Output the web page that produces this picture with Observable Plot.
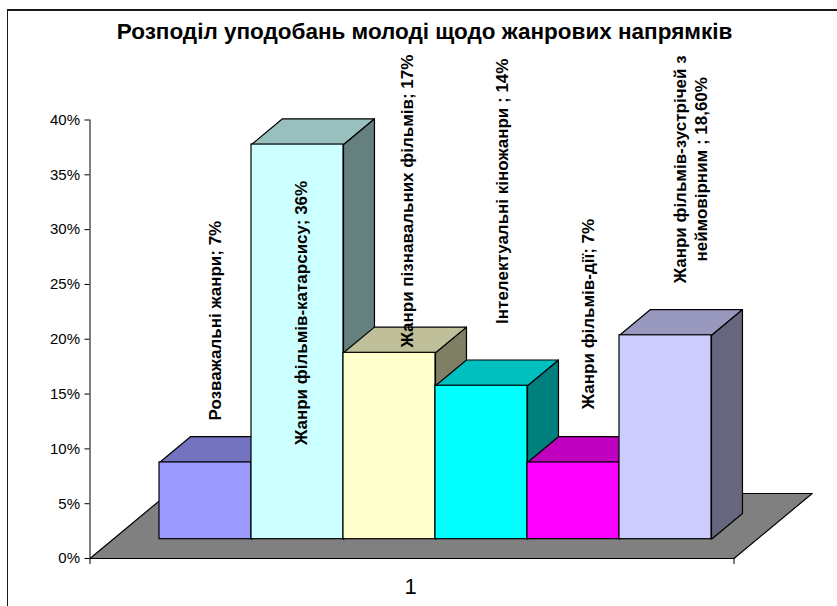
<!DOCTYPE html>
<html><head><meta charset="utf-8">
<script src="https://cdn.jsdelivr.net/npm/d3@7"></script>
<script src="https://cdn.jsdelivr.net/npm/@observablehq/plot@0.6"></script>
<style>
html,body{margin:0;padding:0;background:#fff}
#wrap{position:relative;width:837px;height:606px;overflow:hidden;font-family:"Liberation Sans",Arial,sans-serif}
#border{position:absolute;left:7px;top:9px;width:900px;height:700px;border:2px solid #1a1a1a;border-left-width:1.5px;box-sizing:border-box;pointer-events:none}
#title{height:46px;padding-top:20px;box-sizing:border-box;text-align:center;width:849px;font-size:22.5px;line-height:24px;font-weight:bold;color:#000;white-space:nowrap}
svg{display:block}
</style></head><body>
<div id="wrap"><div id="border"></div><div id="title"></div><div id="chart"></div></div>
<script>
const title = "Розподіл уподобань молоді щодо жанрових напрямків";
const labels = ["Розважальні жанри; 7%","Жанри фільмів-катарсису; 36%","Жанри пізнавальних фільмів; 17%","Інтелектуальні кіножанри ; 14%","Жанри фільмів-дії; 7%","Жанри фільмів-зустрічей з\nнеймовірним ; 18,60%"];
const values = [7, 36, 17, 14, 7, 18.6];
const category = "1";
const frontColors = ["#9999FF","#CCFFFF","#FFFFCC","#00FFFF","#FF00FF","#CCCCFF"];
const topColors = ["#7373BF","#99BFBF","#BFBF99","#00BFBF","#BF00BF","#9999BF"];
const sideColors = ["#4C4C7F","#667F7F","#7F7F66","#007F7F","#7F007F","#66667F"];
const floorColor = "#808080";
const yTicks = [0,5,10,15,20,25,30,35,40];
// label nudges from the centre of each bar top, in pixels
const labelDx = [9,3,17,20,14,24];
const labelY = [21.7,22.4,32.6,33.5,22.3,35.5];

// oblique projection: depth z runs 0 (front of floor) to 1 (back of floor)
const skewX = 0.85, skewY = 5.93;
const zFront = 0.297, zBack = 0.693, gap = 0.503, xMax = 7;
const px = (x, z) => x + z * skewX;
const py = (v, z) => v + z * skewY;
const poly = pts => pts.concat([pts[0]]).map(([x,v,z]) => ({x: px(x,z), y: py(v,z)}));
const edge = {x:"x", y:"y", stroke:"#000", strokeWidth:1.2, strokeLinejoin:"round", curve:"linear"};

const marks = [];
marks.push(Plot.line(poly([[0,0,0],[xMax,0,0],[xMax,0,1],[0,0,1]]), {...edge, fill:floorColor}));
values.forEach((v,i) => {
  const a = gap + i, b = a + 1;
  marks.push(Plot.line(poly([[b,0,zFront],[b,0,zBack],[b,v,zBack],[b,v,zFront]]), {...edge, fill:sideColors[i]}));
  marks.push(Plot.line(poly([[a,v,zFront],[b,v,zFront],[b,v,zBack],[a,v,zBack]]), {...edge, fill:topColors[i]}));
  marks.push(Plot.rect([{a,b,v}], {x1:d=>px(d.a,zFront), x2:d=>px(d.b,zFront), y1:()=>py(0,zFront), y2:d=>py(d.v,zFront), fill:frontColors[i], stroke:"#000", strokeWidth:1.2}));
});
marks.push(Plot.ruleX([0], {y1:0, y2:40, stroke:"#000", strokeWidth:1}));
marks.push(Plot.ruleY([0], {x1:0, x2:xMax, stroke:"#000", strokeWidth:1.2}));
marks.push(Plot.axisY(yTicks, {anchor:"left", tickSize:5, tickPadding:5, tickFormat:d=>d+"%", fontSize:15, label:null, stroke:"#000", fill:"#000", strokeWidth:1}));
marks.push(Plot.axisX([0,xMax], {anchor:"bottom", tickSize:6, tickFormat:()=>"", label:null, stroke:"#000", strokeWidth:1}));
marks.push(Plot.axisX([xMax/2], {anchor:"bottom", tickSize:0, tickPadding:20, dx:-1.5, tickFormat:()=>category, fontSize:22, label:null, fill:"#000"}));
labels.forEach((t,i) => {
  marks.push(Plot.text([t], {x:()=>px(gap+i+0.5,zFront), y:()=>labelY[i], dx:labelDx[i], text:d=>d, rotate:-90, textAnchor:"middle", lineAnchor:"middle", lineHeight:1.28, fontWeight:"bold", fontSize:17, fill:"#000"}));
});

document.getElementById("title").textContent = title;
const plot = Plot.plot({
  width:837, height:560,
  marginLeft:89.5, marginRight:103.5, marginTop:73.5, marginBottom:48,
  style:{fontFamily:'"Liberation Sans",Arial,sans-serif', background:"transparent", color:"#000", overflow:"visible"},
  x:{domain:[0,xMax], axis:null},
  y:{domain:[0,40], axis:null},
  marks
});
document.getElementById("chart").appendChild(plot);
</script>
</body></html>
